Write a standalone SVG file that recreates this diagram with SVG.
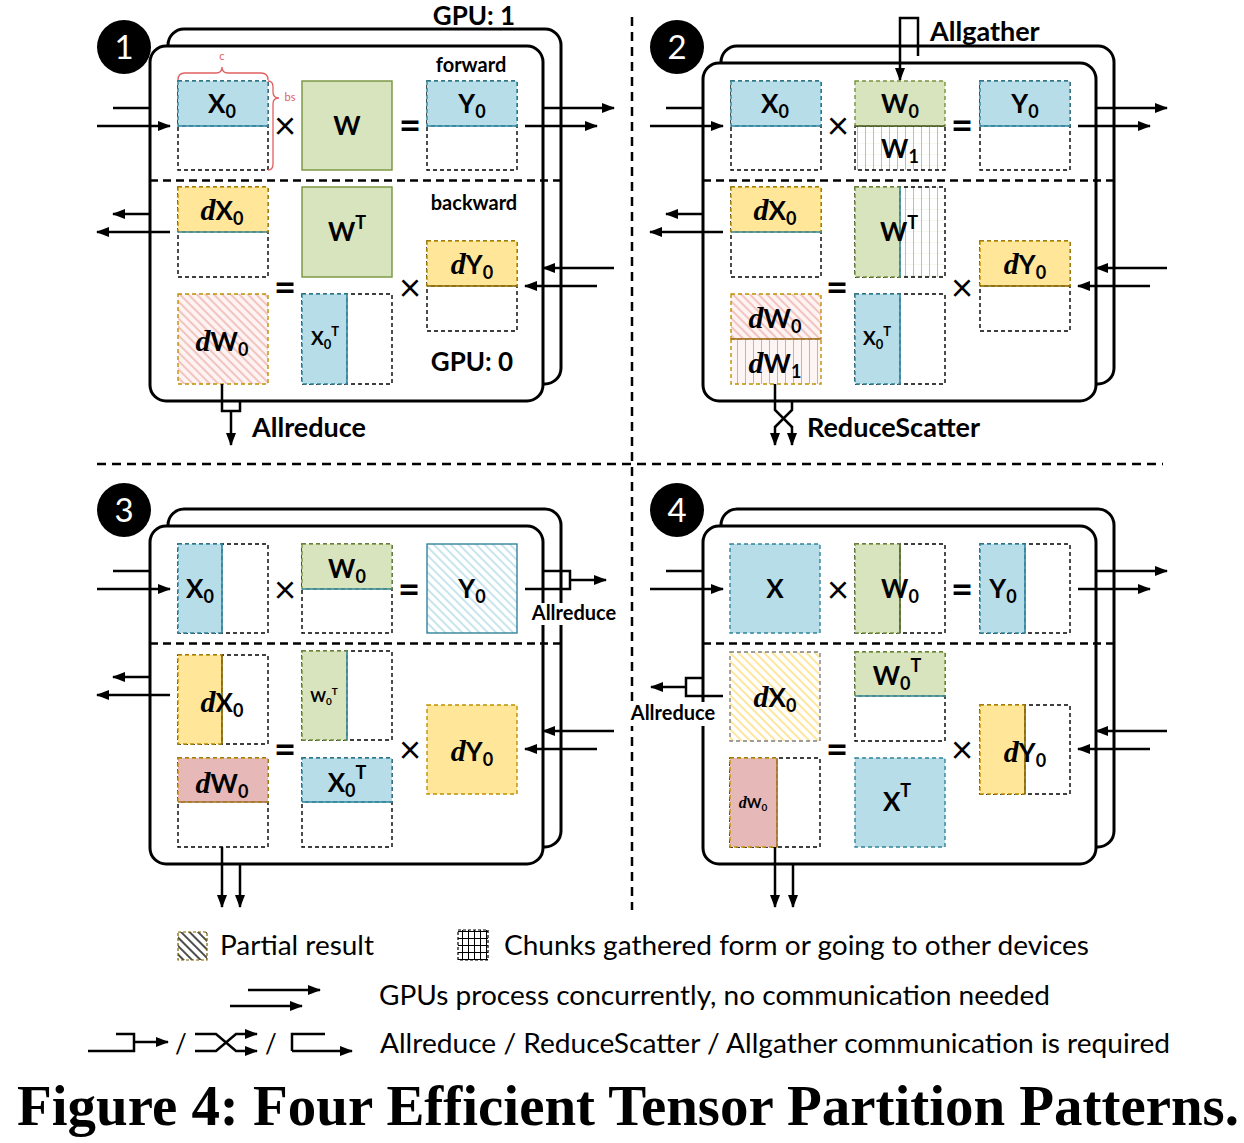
<svg xmlns="http://www.w3.org/2000/svg" width="1244" height="1143" viewBox="0 0 1244 1143">
<style>
.card{fill:#fff;stroke:#000;stroke-width:3}
.div{stroke:#000;stroke-width:2.5;stroke-dasharray:8 5;fill:none}
.ln{stroke:#000;stroke-width:2.5;fill:none}
.arr{stroke:#000;stroke-width:2.5;fill:none;marker-end:url(#ah)}
.box{fill:#fff;stroke:#000;stroke-width:1.4;stroke-dasharray:4 3}
.bl{fill:#b7dde8;stroke:#31849b;stroke-width:1.4;stroke-dasharray:4 3}
.gr{fill:#d7e4bd;stroke:#77933c;stroke-width:1.4;stroke-dasharray:4 3}
.ye{fill:#ffe699;stroke:#bf9000;stroke-width:1.4;stroke-dasharray:4 3}
.pk{fill:#e6b9b8;stroke:#bf9000;stroke-width:1.4;stroke-dasharray:4 3}
.sbl{stroke:#31849b;stroke-width:1.6}
.sgr{stroke:#4f6228;stroke-width:1.6}
.sye{stroke:#7f6000;stroke-width:1.6}
.spk{stroke:#a07030;stroke-width:1.6}
text{font-family:Lato,"Liberation Sans",sans-serif;fill:#000}
.l{font-weight:700;font-size:26px;text-anchor:middle}
.s{font-size:18px}
.d{font-family:"Liberation Serif",serif;font-style:italic;font-weight:700;font-size:30px}
.op{font-size:38px;text-anchor:middle}
.opb{font-size:38px;font-weight:700;text-anchor:middle}
.hd{font-weight:700;font-size:26px;text-anchor:middle}
.sm{font-weight:700;font-size:20px;text-anchor:middle}
.com{font-weight:700;font-size:27px}
.num{font-size:33px;fill:#fff;text-anchor:middle}
.leg{font-size:26px}
.red{fill:#e06060;font-size:11px;text-anchor:middle}
.cap{font-family:"Liberation Serif",serif;font-weight:700;font-size:56px}
</style>
<defs>
<marker id="ah" markerWidth="13" markerHeight="10" refX="12" refY="5" orient="auto" markerUnits="userSpaceOnUse"><path d="M0,0 L13,5 L0,10 z" fill="#000"/></marker>
<pattern id="hRed" width="6" height="6" patternUnits="userSpaceOnUse" patternTransform="rotate(45)"><rect width="6" height="6" fill="#fdf3f2"/><line x1="0" y1="3" x2="6" y2="3" stroke="#eba49d" stroke-width="1.2"/></pattern>
<pattern id="hBlue" width="6" height="6" patternUnits="userSpaceOnUse" patternTransform="rotate(45)"><rect width="6" height="6" fill="#fff"/><line x1="0" y1="3" x2="6" y2="3" stroke="#a3d2e2" stroke-width="1.2"/></pattern>
<pattern id="hYel" width="6" height="6" patternUnits="userSpaceOnUse" patternTransform="rotate(45)"><rect width="6" height="6" fill="#fff"/><line x1="0" y1="3" x2="6" y2="3" stroke="#ffd966" stroke-width="1.3"/></pattern>
<pattern id="hBlk" width="6" height="6" patternUnits="userSpaceOnUse" patternTransform="rotate(45)"><rect width="6" height="6" fill="#fff"/><line x1="0" y1="3" x2="6" y2="3" stroke="#000" stroke-width="1.4"/></pattern>
<pattern id="gGreen" width="8" height="11" patternUnits="userSpaceOnUse"><rect width="8" height="11" fill="#fff"/><line x1="0" y1="0" x2="8" y2="0" stroke="#e9efdd" stroke-width="1"/><line x1="0.5" y1="0" x2="0.5" y2="11" stroke="#b3cc8a" stroke-width="1"/></pattern>
<pattern id="gRed" width="8" height="11" patternUnits="userSpaceOnUse"><rect width="8" height="11" fill="#fdf5f4"/><line x1="0.5" y1="0" x2="0.5" y2="11" stroke="#eba49d" stroke-width="1"/></pattern>
<pattern id="gBlk" width="6" height="7" patternUnits="userSpaceOnUse"><rect width="6" height="7" fill="#fff"/><line x1="0" y1="0.5" x2="6" y2="0.5" stroke="#000" stroke-width="1"/><line x1="0.5" y1="0" x2="0.5" y2="7" stroke="#000" stroke-width="1"/></pattern>
</defs>

<g id="separators">
<line class="div" x1="632" y1="17" x2="632" y2="910" style="stroke-dasharray:9 6"/>
<line class="div" x1="97" y1="464" x2="1163" y2="464" style="stroke-dasharray:9 6"/>
</g>

<!-- PANEL 1 -->
<g id="panel1">
<text class="hd" x="474" y="25">GPU: 1</text>
<rect class="card" x="168" y="29" width="393" height="355" rx="16"/>
<rect class="card" x="150" y="46" width="393" height="355" rx="16"/>
<line class="div" x1="150" y1="180.5" x2="561" y2="180.5"/>
<g id="p1-num"><circle cx="124" cy="47" r="27"/><text class="num" x="124" y="59">1</text></g>
<text class="sm" x="471" y="72">forward</text>
<text class="sm" x="474" y="210">backward</text>
<text class="hd" x="472" y="371">GPU: 0</text>
<g id="p1-X0"><rect class="box" x="178" y="81" width="90" height="89"/><rect class="bl" x="178" y="81" width="90" height="45"/><line class="sbl" x1="178" y1="126" x2="268" y2="126"/><text class="l" x="222" y="113">X<tspan class="s" dy="5">0</tspan></text></g>
<g id="p1-brace" fill="none" stroke="#e06060" stroke-width="1.3"><path d="M178,80 Q178,73 185,73 H216 Q222,73 222,67 Q222,73 228,73 H261 Q268,73 268,80"/><path d="M268,81 Q273,81 273,87 V92 Q273,98 279,98 Q273,98 273,104 V164 Q273,170 268,170"/></g>
<text class="red" x="222" y="60">c</text>
<text class="red" x="290" y="101">bs</text>
<text class="op" x="285" y="139">×</text>
<g id="p1-W"><rect x="302" y="81" width="90" height="89" fill="#d7e4bd" stroke="#77933c" stroke-width="1.4"/><text class="l" x="347" y="135">W</text></g>
<text class="opb" x="410" y="139">=</text>
<g id="p1-Y0"><rect class="box" x="427" y="81" width="90" height="89"/><rect class="bl" x="427" y="81" width="90" height="45"/><line class="sbl" x1="427" y1="126" x2="517" y2="126"/><text class="l" x="472" y="113">Y<tspan class="s" dy="5">0</tspan></text></g>
<g id="p1-dX0"><rect class="box" x="178" y="187" width="90" height="90"/><rect class="ye" x="178" y="187" width="90" height="45"/><line class="sbl" x1="178" y1="232" x2="268" y2="232"/><text class="l" x="222" y="220"><tspan class="d">d</tspan>X<tspan class="s" dy="5">0</tspan></text></g>
<g id="p1-WT"><rect x="302" y="187" width="90" height="90" fill="#d7e4bd" stroke="#77933c" stroke-width="1.4"/><text class="l" x="347" y="241">W<tspan class="s" dy="-12">T</tspan></text></g>
<g id="p1-dY0"><rect class="box" x="427" y="241" width="90" height="90"/><rect class="ye" x="427" y="241" width="90" height="45"/><line class="sye" x1="427" y1="286" x2="517" y2="286"/><text class="l" x="472" y="274"><tspan class="d">d</tspan>Y<tspan class="s" dy="5">0</tspan></text></g>
<g id="p1-dW0"><rect x="178" y="294" width="90" height="90" fill="url(#hRed)" stroke="#bf9000" stroke-width="1.4" stroke-dasharray="4 3"/><text class="l" x="222" y="351"><tspan class="d">d</tspan>W<tspan class="s" dy="5">0</tspan></text></g>
<g id="p1-X0T"><rect class="box" x="302" y="294" width="90" height="90"/><rect class="bl" x="302" y="294" width="45" height="90"/><line class="sbl" x1="347" y1="294" x2="347" y2="384"/><text class="l" x="325" y="345" style="font-size:19px">X<tspan style="font-size:13px" dy="4">0</tspan><tspan style="font-size:13px" dy="-13">T</tspan></text></g>
<text class="opb" x="285" y="301">=</text>
<text class="op" x="410" y="301">×</text>
</g>

<!-- PANEL 2 -->
<g id="panel2" transform="translate(553,0)">
<rect class="card" x="168" y="46" width="393" height="338" rx="16"/>
<rect class="card" x="150" y="63" width="393" height="338" rx="16"/>
<line class="div" x1="150" y1="180.5" x2="561" y2="180.5"/>
<g id="p2-num"><circle cx="124" cy="47" r="27"/><text class="num" x="124" y="59">2</text></g>
<g id="p2-X0"><rect class="box" x="178" y="81" width="90" height="89"/><rect class="bl" x="178" y="81" width="90" height="45"/><line class="sbl" x1="178" y1="126" x2="268" y2="126"/><text class="l" x="222" y="113">X<tspan class="s" dy="5">0</tspan></text></g>
<text class="op" x="285" y="139">×</text>
<g id="p2-W"><rect x="302" y="126" width="90" height="44" fill="url(#gGreen)" stroke="#000" stroke-width="1.4" stroke-dasharray="4 3"/><rect class="gr" x="302" y="81" width="90" height="45"/><line class="sgr" x1="302" y1="126" x2="392" y2="126"/><text class="l" x="347" y="113">W<tspan class="s" dy="5">0</tspan></text><text class="l" x="347" y="158">W<tspan class="s" dy="5">1</tspan></text></g>
<text class="opb" x="409" y="139">=</text>
<g id="p2-Y0"><rect class="box" x="427" y="81" width="90" height="89"/><rect class="bl" x="427" y="81" width="90" height="45"/><line class="sbl" x1="427" y1="126" x2="517" y2="126"/><text class="l" x="472" y="113">Y<tspan class="s" dy="5">0</tspan></text></g>
<g id="p2-dX0"><rect class="box" x="178" y="187" width="90" height="90"/><rect class="ye" x="178" y="187" width="90" height="45"/><line class="sbl" x1="178" y1="232" x2="268" y2="232"/><text class="l" x="222" y="220"><tspan class="d">d</tspan>X<tspan class="s" dy="5">0</tspan></text></g>
<g id="p2-WT"><rect x="302" y="187" width="90" height="90" fill="url(#gGreen)" stroke="#000" stroke-width="1.4" stroke-dasharray="4 3"/><rect class="gr" x="302" y="187" width="45" height="90"/><line class="sbl" x1="347" y1="187" x2="347" y2="277"/><text class="l" x="346" y="241">W<tspan class="s" dy="-12">T</tspan></text></g>
<g id="p2-dY0"><rect class="box" x="427" y="241" width="90" height="90"/><rect class="ye" x="427" y="241" width="90" height="45"/><line class="sye" x1="427" y1="286" x2="517" y2="286"/><text class="l" x="472" y="274"><tspan class="d">d</tspan>Y<tspan class="s" dy="5">0</tspan></text></g>
<g id="p2-dW"><rect x="178" y="294" width="90" height="45" fill="url(#hRed)" stroke="#bf9000" stroke-width="1.4" stroke-dasharray="4 3"/><rect x="178" y="339" width="90" height="45" fill="url(#gRed)" stroke="#bf9000" stroke-width="1.4" stroke-dasharray="4 3"/><line class="spk" x1="178" y1="339" x2="268" y2="339"/><text class="l" x="222" y="328"><tspan class="d">d</tspan>W<tspan class="s" dy="5">0</tspan></text><text class="l" x="222" y="373"><tspan class="d">d</tspan>W<tspan class="s" dy="5">1</tspan></text></g>
<g id="p2-X0T"><rect class="box" x="302" y="294" width="90" height="90"/><rect class="bl" x="302" y="294" width="45" height="90"/><line class="sbl" x1="347" y1="294" x2="347" y2="384"/><text class="l" x="324" y="345" style="font-size:19px">X<tspan style="font-size:13px" dy="4">0</tspan><tspan style="font-size:13px" dy="-13">T</tspan></text></g>
<text class="opb" x="284" y="301">=</text>
<text class="op" x="409" y="301">×</text>
</g>

<!-- PANEL 3 -->
<g id="panel3" transform="translate(0,463)">
<rect class="card" x="168" y="46" width="393" height="338" rx="16"/>
<rect class="card" x="150" y="63" width="393" height="338" rx="16"/>
<line class="div" x1="150" y1="180.5" x2="561" y2="180.5"/>
<g id="p3-num"><circle cx="124" cy="47" r="27"/><text class="num" x="124" y="59">3</text></g>
<g id="p3-X0"><rect class="box" x="178" y="81" width="90" height="89"/><rect class="bl" x="178" y="81" width="44" height="89"/><line class="sbl" x1="222" y1="81" x2="222" y2="170"/><text class="l" x="200" y="135">X<tspan class="s" dy="5">0</tspan></text></g>
<text class="op" x="285" y="140">×</text>
<g id="p3-W0"><rect class="box" x="302" y="81" width="90" height="89"/><rect class="gr" x="302" y="81" width="90" height="45"/><line class="sbl" x1="302" y1="126" x2="392" y2="126"/><text class="l" x="347" y="115">W<tspan class="s" dy="5">0</tspan></text></g>
<text class="opb" x="409" y="140">=</text>
<g id="p3-Y0"><rect x="427" y="81" width="90" height="89" fill="url(#hBlue)" stroke="#31849b" stroke-width="1.4"/><text class="l" x="472" y="135">Y<tspan class="s" dy="5">0</tspan></text></g>
<g id="p3-dX0"><rect class="box" x="178" y="192" width="90" height="89"/><rect class="ye" x="178" y="192" width="44" height="89"/><line class="sye" x1="222" y1="192" x2="222" y2="281"/><text class="l" x="222" y="249"><tspan class="d">d</tspan>X<tspan class="s" dy="5">0</tspan></text></g>
<g id="p3-W0T"><rect class="box" x="302" y="188" width="90" height="89"/><rect class="gr" x="302" y="188" width="45" height="89"/><line class="sbl" x1="347" y1="188" x2="347" y2="277"/><text class="l" x="324" y="239" style="font-size:15px">W<tspan style="font-size:10px" dy="3">0</tspan><tspan style="font-size:10px" dy="-10">T</tspan></text></g>
<g id="p3-dY0"><rect class="ye" x="427" y="242" width="90" height="89"/><text class="l" x="472" y="298"><tspan class="d">d</tspan>Y<tspan class="s" dy="5">0</tspan></text></g>
<g id="p3-dW0"><rect class="box" x="178" y="295" width="90" height="89"/><rect class="pk" x="178" y="295" width="90" height="44"/><line class="spk" x1="178" y1="339" x2="268" y2="339"/><text class="l" x="222" y="330"><tspan class="d">d</tspan>W<tspan class="s" dy="5">0</tspan></text></g>
<g id="p3-X0T"><rect class="box" x="302" y="295" width="90" height="89"/><rect class="bl" x="302" y="295" width="90" height="44"/><line class="sbl" x1="302" y1="339" x2="392" y2="339"/><text class="l" x="347" y="329">X<tspan class="s" dy="5">0</tspan><tspan class="s" dy="-18">T</tspan></text></g>
<text class="opb" x="285" y="300">=</text>
<text class="op" x="410" y="300">×</text>
</g>

<!-- PANEL 4 -->
<g id="panel4" transform="translate(553,463)">
<rect class="card" x="168" y="46" width="393" height="338" rx="16"/>
<rect class="card" x="150" y="63" width="393" height="338" rx="16"/>
<line class="div" x1="150" y1="180.5" x2="561" y2="180.5"/>
<g id="p4-num"><circle cx="124" cy="47" r="27"/><text class="num" x="124" y="59">4</text></g>
<g id="p4-X"><rect class="bl" x="177" y="81" width="90" height="89"/><text class="l" x="222" y="135">X</text></g>
<text class="op" x="285" y="140">×</text>
<g id="p4-W0"><rect class="box" x="302" y="81" width="90" height="89"/><rect class="gr" x="302" y="81" width="45" height="89"/><line class="sgr" x1="347" y1="81" x2="347" y2="170"/><text class="l" x="347" y="135">W<tspan class="s" dy="5">0</tspan></text></g>
<text class="opb" x="409" y="140">=</text>
<g id="p4-Y0"><rect class="box" x="427" y="81" width="90" height="89"/><rect class="bl" x="427" y="81" width="45" height="89"/><line class="sbl" x1="472" y1="81" x2="472" y2="170"/><text class="l" x="450" y="135">Y<tspan class="s" dy="5">0</tspan></text></g>
<g id="p4-dX0"><rect x="177" y="189" width="90" height="89" fill="url(#hYel)" stroke="#7f7f7f" stroke-width="1.4" stroke-dasharray="4 3"/><text class="l" x="222" y="244"><tspan class="d">d</tspan>X<tspan class="s" dy="5">0</tspan></text></g>
<g id="p4-W0T"><rect class="box" x="302" y="189" width="90" height="89"/><rect class="gr" x="302" y="189" width="90" height="44"/><line class="sbl" x1="302" y1="233" x2="392" y2="233"/><text class="l" x="344" y="222">W<tspan class="s" dy="5">0</tspan><tspan class="s" dy="-18">T</tspan></text></g>
<g id="p4-dY0"><rect class="box" x="427" y="242" width="90" height="89"/><rect class="ye" x="427" y="242" width="45" height="89"/><line class="sye" x1="472" y1="242" x2="472" y2="331"/><text class="l" x="472" y="299"><tspan class="d">d</tspan>Y<tspan class="s" dy="5">0</tspan></text></g>
<g id="p4-dW0"><rect class="box" x="177" y="295" width="90" height="89"/><rect class="pk" x="177" y="295" width="47" height="89"/><line class="spk" x1="224" y1="295" x2="224" y2="384"/><text class="l" x="200" y="345" style="font-size:14px"><tspan class="d" style="font-size:16px">d</tspan>W<tspan style="font-size:10px" dy="3">0</tspan></text></g>
<g id="p4-XT"><rect class="bl" x="302" y="295" width="90" height="89"/><text class="l" x="344" y="348">X<tspan class="s" dy="-14">T</tspan></text></g>
<text class="opb" x="284" y="300">=</text>
<text class="op" x="409" y="300">×</text>
</g>

<!-- CONNECTORS -->
<g id="connectors">
<line class="ln" x1="113" y1="108" x2="150" y2="108"/>
<line class="arr" x1="97" y1="126" x2="170" y2="126"/>
<line class="arr" x1="543" y1="108" x2="614" y2="108"/>
<line class="arr" x1="525" y1="126" x2="597" y2="126"/>
<line class="arr" x1="150" y1="214" x2="113" y2="214"/>
<line class="arr" x1="170" y1="232" x2="97" y2="232"/>
<line class="arr" x1="614" y1="268" x2="543" y2="268"/>
<line class="arr" x1="597" y1="286" x2="525" y2="286"/>
<polyline class="ln" points="222,384 222,411 240,411 240,401"/>
<line class="arr" x1="231" y1="411" x2="231" y2="445"/>
<line class="ln" x1="666" y1="108" x2="703" y2="108"/>
<line class="arr" x1="650" y1="126" x2="723" y2="126"/>
<line class="arr" x1="1096" y1="108" x2="1167" y2="108"/>
<line class="arr" x1="1078" y1="126" x2="1150" y2="126"/>
<line class="arr" x1="703" y1="214" x2="666" y2="214"/>
<line class="arr" x1="723" y1="232" x2="650" y2="232"/>
<line class="arr" x1="1167" y1="268" x2="1096" y2="268"/>
<line class="arr" x1="1150" y1="286" x2="1078" y2="286"/>
<polyline class="arr" points="918,56 918,18 900,18 900,80"/>
<polyline class="ln" points="775,384 775,410 792,427"/>
<polyline class="ln" points="792,401 792,410 775,427"/>
<line class="arr" x1="775" y1="426" x2="775" y2="445"/>
<line class="arr" x1="792" y1="426" x2="792" y2="445"/>
<line class="ln" x1="113" y1="571" x2="150" y2="571"/>
<line class="arr" x1="97" y1="589" x2="170" y2="589"/>
<polyline class="ln" points="543,571 570,571 570,589 525,589"/>
<line class="arr" x1="570" y1="580" x2="606" y2="580"/>
<line class="arr" x1="150" y1="677" x2="113" y2="677"/>
<line class="arr" x1="170" y1="695" x2="97" y2="695"/>
<line class="arr" x1="614" y1="731" x2="543" y2="731"/>
<line class="arr" x1="597" y1="749" x2="525" y2="749"/>
<line class="arr" x1="222" y1="847" x2="222" y2="907"/>
<line class="arr" x1="240" y1="864" x2="240" y2="907"/>
<line class="ln" x1="666" y1="571" x2="703" y2="571"/>
<line class="arr" x1="650" y1="589" x2="723" y2="589"/>
<line class="arr" x1="1096" y1="571" x2="1167" y2="571"/>
<line class="arr" x1="1078" y1="589" x2="1150" y2="589"/>
<polyline class="ln" points="703,678 686,678 686,696 723,696"/>
<line class="arr" x1="686" y1="687" x2="651" y2="687"/>
<line class="arr" x1="1167" y1="731" x2="1096" y2="731"/>
<line class="arr" x1="1150" y1="749" x2="1078" y2="749"/>
<line class="arr" x1="775" y1="847" x2="775" y2="907"/>
<line class="arr" x1="793" y1="864" x2="793" y2="907"/>
</g>

<g id="comm-labels">
<text class="com" x="252" y="437">Allreduce</text>
<text class="com" x="807" y="437">ReduceScatter</text>
<text class="com" x="930" y="41">Allgather</text>
<rect x="529" y="603" width="90" height="22" fill="#fff"/>
<text class="sm" x="574" y="620">Allreduce</text>
<rect x="628" y="702" width="90" height="24" fill="#fff"/>
<text class="sm" x="673" y="720">Allreduce</text>
</g>

<g id="legend">
<rect x="178" y="932" width="29" height="28" fill="url(#hBlk)" stroke="#7f6000" stroke-width="1.2" stroke-dasharray="3 2"/>
<text class="leg" x="220" y="955" textLength="154" lengthAdjust="spacingAndGlyphs">Partial result</text>
<rect x="458" y="930" width="30" height="30" fill="url(#gBlk)" stroke="#000" stroke-width="1.2" stroke-dasharray="3 2"/>
<text class="leg" x="504" y="955" textLength="585" lengthAdjust="spacingAndGlyphs">Chunks gathered form or going to other devices</text>
<line class="arr" x1="248" y1="990" x2="320" y2="990"/>
<line class="arr" x1="230" y1="1006" x2="302" y2="1006"/>
<text class="leg" x="379" y="1005" textLength="671" lengthAdjust="spacingAndGlyphs">GPUs process concurrently, no communication needed</text>
<polyline class="ln" points="88,1051 134,1051 134,1034 116,1034"/>
<line class="arr" x1="134" y1="1042" x2="168" y2="1042"/>
<text class="leg" x="175" y="1053">/</text>
<path class="arr" d="M195,1034 H216 L236,1051 H257"/>
<path class="arr" d="M195,1051 H216 L236,1034 H257"/>
<text class="leg" x="265" y="1053">/</text>
<polyline class="ln" points="325,1034 292,1034 292,1051"/>
<line class="arr" x1="292" y1="1051" x2="352" y2="1051"/>
<text class="leg" x="380" y="1053" textLength="790" lengthAdjust="spacingAndGlyphs">Allreduce / ReduceScatter / Allgather communication is required</text>
</g>

<text class="cap" x="17" y="1125" textLength="1222" lengthAdjust="spacingAndGlyphs">Figure 4: Four Efficient Tensor Partition Patterns.</text>
</svg>
